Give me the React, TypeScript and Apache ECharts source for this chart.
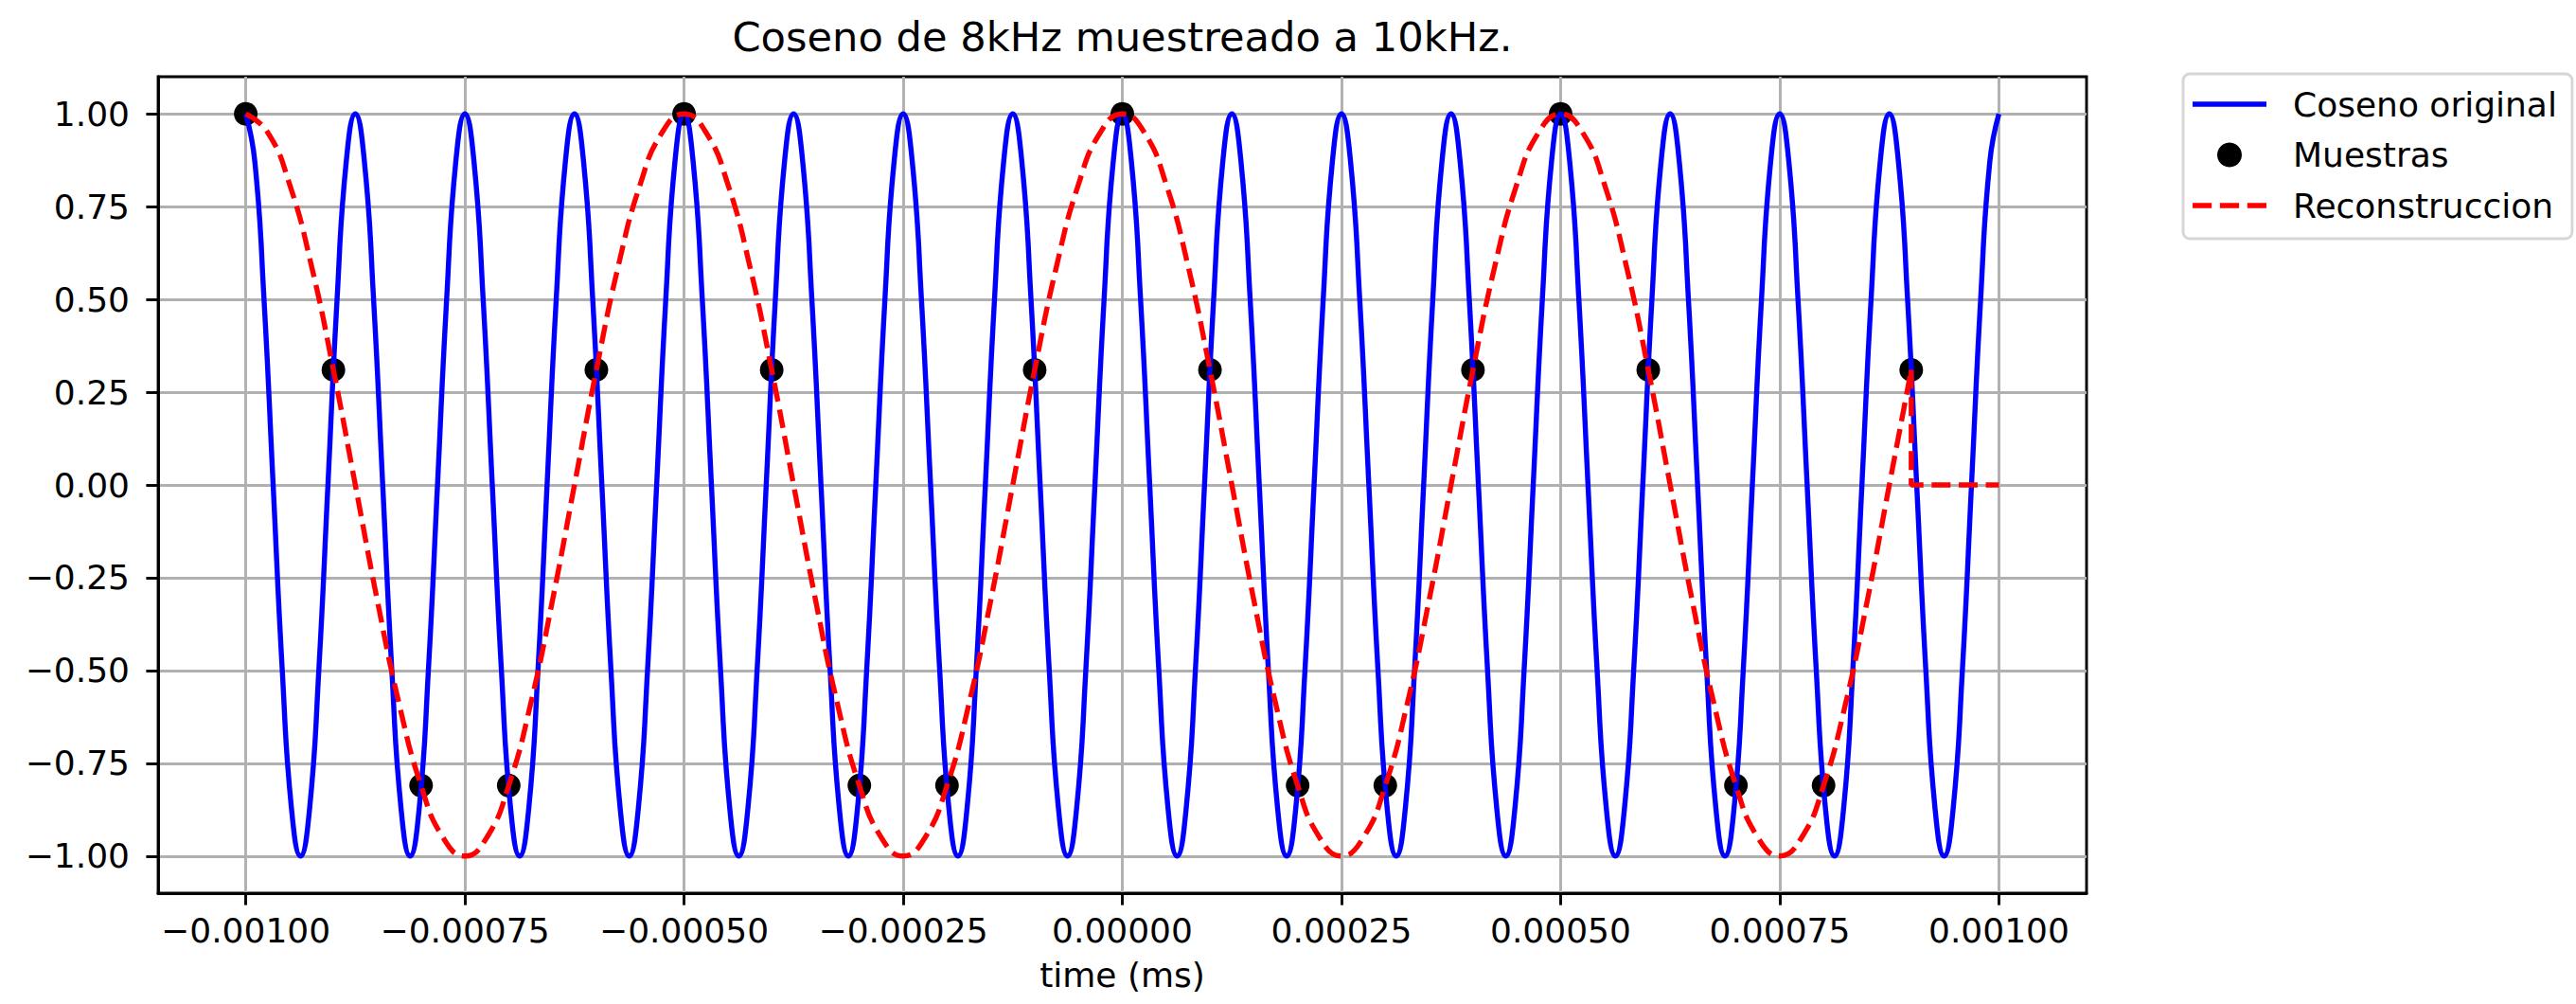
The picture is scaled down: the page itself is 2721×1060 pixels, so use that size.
import { useEffect, useRef } from "react";
import * as echarts from "echarts";

const titleText = "Coseno de 8kHz muestreado a 10kHz.";
const xAxisTitle = "time (ms)";
const seriesNames = ["Coseno original", "Muestras", "Reconstruccion"];

const xTickValues = [-0.001, -0.00075, -0.0005, -0.00025, 0, 0.00025, 0.0005, 0.00075, 0.001];
const xTickLabels = ["−0.00100", "−0.00075", "−0.00050", "−0.00025", "0.00000", "0.00025", "0.00050", "0.00075", "0.00100"];
const yTickValues = [-1, -0.75, -0.5, -0.25, 0, 0.25, 0.5, 0.75, 1];
const yTickLabels = ["−1.00", "−0.75", "−0.50", "−0.25", "0.00", "0.25", "0.50", "0.75", "1.00"];

// Original 8 kHz cosine, read at 12 points per period, from t = -0.001 s
const originalStart = -0.001;
const originalStep = 0.000125 / 12;
const originalValues = [
  1, 0.87, 0.5, 0, -0.5, -0.87, -1, -0.87, -0.5, 0, 0.5, 0.87,
  1, 0.87, 0.5, 0, -0.5, -0.87, -1, -0.87, -0.5, 0, 0.5, 0.87,
  1, 0.87, 0.5, 0, -0.5, -0.87, -1, -0.87, -0.5, 0, 0.5, 0.87,
  1, 0.87, 0.5, 0, -0.5, -0.87, -1, -0.87, -0.5, 0, 0.5, 0.87,
  1, 0.87, 0.5, 0, -0.5, -0.87, -1, -0.87, -0.5, 0, 0.5, 0.87,
  1, 0.87, 0.5, 0, -0.5, -0.87, -1, -0.87, -0.5, 0, 0.5, 0.87,
  1, 0.87, 0.5, 0, -0.5, -0.87, -1, -0.87, -0.5, 0, 0.5, 0.87,
  1, 0.87, 0.5, 0, -0.5, -0.87, -1, -0.87, -0.5, 0, 0.5, 0.87,
  1, 0.87, 0.5, 0, -0.5, -0.87, -1, -0.87, -0.5, 0, 0.5, 0.87,
  1, 0.87, 0.5, 0, -0.5, -0.87, -1, -0.87, -0.5, 0, 0.5, 0.87,
  1, 0.87, 0.5, 0, -0.5, -0.87, -1, -0.87, -0.5, 0, 0.5, 0.87,
  1, 0.87, 0.5, 0, -0.5, -0.87, -1, -0.87, -0.5, 0, 0.5, 0.87,
  1, 0.87, 0.5, 0, -0.5, -0.87, -1, -0.87, -0.5, 0, 0.5, 0.87,
  1, 0.87, 0.5, 0, -0.5, -0.87, -1, -0.87, -0.5, 0, 0.5, 0.87,
  1, 0.87, 0.5, 0, -0.5, -0.87, -1, -0.87, -0.5, 0, 0.5, 0.87,
  1, 0.87, 0.5, 0, -0.5, -0.87, -1, -0.87, -0.5, 0, 0.5, 0.87,
  1,
];

// Reconstruction (2 kHz alias), read every 0.000025 s from t = -0.001 s to 0.0009 s
const reconstructionStart = -0.001;
const reconstructionStep = 0.000025;
const reconstructionValues = [
  1, 0.95, 0.81, 0.59, 0.31, 0, -0.31, -0.59, -0.81, -0.95, -1, -0.95, -0.81, -0.59, -0.31, 0, 0.31, 0.59, 0.81, 0.95,
  1, 0.95, 0.81, 0.59, 0.31, 0, -0.31, -0.59, -0.81, -0.95, -1, -0.95, -0.81, -0.59, -0.31, 0, 0.31, 0.59, 0.81, 0.95,
  1, 0.95, 0.81, 0.59, 0.31, 0, -0.31, -0.59, -0.81, -0.95, -1, -0.95, -0.81, -0.59, -0.31, 0, 0.31, 0.59, 0.81, 0.95,
  1, 0.95, 0.81, 0.59, 0.31, 0, -0.31, -0.59, -0.81, -0.95, -1, -0.95, -0.81, -0.59, -0.31, 0, 0.31,
];
const reconstructionTailTimes = [0.0009, 0.0009, 0.001];
const reconstructionTailValues = [0.31, 0, 0];

// Samples taken at 10 kHz
const sampleTimes = [
  -0.001, -0.0009, -0.0008, -0.0007, -0.0006, -0.0005, -0.0004, -0.0003, -0.0002, -0.0001,
  0, 0.0001, 0.0002, 0.0003, 0.0004, 0.0005, 0.0006, 0.0007, 0.0008, 0.0009,
];
const sampleValues = [
  1, 0.31, -0.81, -0.81, 0.31, 1, 0.31, -0.81, -0.81, 0.31,
  1, 0.31, -0.81, -0.81, 0.31, 1, 0.31, -0.81, -0.81, 0.31,
];

const FONT = "DejaVu Sans";
const SOLID_ICON = "path://M0,0 H78 V5.4 H0 Z";
const DASHED_ICON = "path://M0,0 H20 V5.4 H0 Z M28.6,0 H48.6 V5.4 H28.6 Z M57.2,0 H77.2 V5.4 H57.2 Z";

function labelFor(values: number[], labels: string[], v: number): string {
  const i = values.findIndex((t) => Math.abs(t - v) < 1e-9);
  return i >= 0 ? labels[i] : "";
}

export default function App() {
  const ref = useRef<HTMLDivElement>(null);

  useEffect(() => {
    document.body.style.margin = "0";
    if (!ref.current) return;
    const chart = echarts.init(ref.current, null, { renderer: "svg" });

    const originalData = originalValues.map((v, i) => [originalStart + i * originalStep, v]);
    const reconstructionData = reconstructionValues.map((v, i) => [reconstructionStart + i * reconstructionStep, v]);
    const tailData = reconstructionTailTimes.map((t, i) => [t, reconstructionTailValues[i]]);
    const sampleData = sampleTimes.map((t, i) => [t, sampleValues[i]]);

    const dash = [20, 8.6];

    chart.setOption({
      animation: false,
      backgroundColor: "#ffffff",
      textStyle: { fontFamily: FONT },
      grid: {
        left: 167,
        top: 81,
        width: 2037,
        height: 862,
        show: true,
        borderColor: "#000000",
        borderWidth: 2.9,
        backgroundColor: "transparent",
      },
      graphic: [
        {
          type: "text",
          x: 1185.5,
          y: 39,
          style: {
            text: titleText,
            fontSize: 43.2,
            fontFamily: FONT,
            fill: "#000000",
            align: "center",
            verticalAlign: "middle",
          },
        },
      ],
      legend: {
        orient: "vertical",
        left: 2306,
        top: 78,
        padding: [14, 16, 17, 10],
        itemWidth: 78,
        itemHeight: 26,
        itemGap: 17.5,
        borderColor: "rgba(204,204,204,0.8)",
        borderWidth: 2.9,
        borderRadius: 7,
        backgroundColor: "rgba(255,255,255,0.8)",
        data: [
          { name: seriesNames[0], icon: SOLID_ICON, itemStyle: { color: "#0000ff", opacity: 1 } },
          { name: seriesNames[1], icon: "circle", itemStyle: { color: "#000000", opacity: 1 } },
          { name: seriesNames[2], icon: DASHED_ICON, itemStyle: { color: "#ff0000", opacity: 1 } },
        ],
        textStyle: {
          fontSize: 36,
          fontFamily: FONT,
          color: "#000000",
          padding: [0, 0, 0, 23],
        },
      },
      xAxis: {
        type: "value",
        min: -0.0011,
        max: 0.0011,
        name: xAxisTitle,
        nameLocation: "middle",
        nameGap: 68,
        nameTextStyle: { fontSize: 36, fontFamily: FONT, color: "#000000" },
        axisLine: { show: true, onZero: false, lineStyle: { color: "#000000", width: 2.9 } },
        axisTick: {
          show: true,
          customValues: xTickValues,
          length: 12.6,
          lineStyle: { color: "#000000", width: 2.9 },
        },
        axisLabel: {
          customValues: xTickValues,
          margin: 21,
          fontSize: 36,
          fontFamily: FONT,
          color: "#000000",
          formatter: (v: number) => labelFor(xTickValues, xTickLabels, v),
        },
        splitLine: { show: true, lineStyle: { color: "#b0b0b0", width: 2.9 } },
      },
      yAxis: {
        type: "value",
        min: -1.1,
        max: 1.1,
        axisLine: { show: true, onZero: false, lineStyle: { color: "#000000", width: 2.9 } },
        axisTick: {
          show: true,
          customValues: yTickValues,
          length: 12.6,
          lineStyle: { color: "#000000", width: 2.9 },
        },
        axisLabel: {
          customValues: yTickValues,
          margin: 30,
          fontSize: 36,
          fontFamily: FONT,
          color: "#000000",
          formatter: (v: number) => labelFor(yTickValues, yTickLabels, v),
        },
        splitLine: { show: true, lineStyle: { color: "#b0b0b0", width: 2.9 } },
      },
      series: [
        {
          name: seriesNames[1],
          type: "scatter",
          z: 1,
          data: sampleData,
          symbol: "circle",
          symbolSize: 25,
          itemStyle: { color: "#000000", opacity: 1 },
        },
        {
          name: seriesNames[0],
          type: "line",
          z: 2,
          data: originalData,
          smooth: true,
          symbol: "none",
          lineStyle: { color: "#0000ff", width: 5.4 },
          itemStyle: { color: "#0000ff" },
        },
        {
          name: seriesNames[2],
          type: "line",
          z: 3,
          data: reconstructionData,
          smooth: true,
          symbol: "none",
          lineStyle: { color: "#ff0000", width: 5.4, type: dash },
          itemStyle: { color: "#ff0000" },
        },
        {
          name: seriesNames[2],
          type: "line",
          z: 3,
          data: tailData,
          smooth: false,
          symbol: "none",
          lineStyle: { color: "#ff0000", width: 5.4, type: dash },
          itemStyle: { color: "#ff0000" },
        },
      ],
    });

    return () => {
      chart.dispose();
    };
  }, []);

  return <div ref={ref} style={{ width: 2721, height: 1060 }} />;
}
